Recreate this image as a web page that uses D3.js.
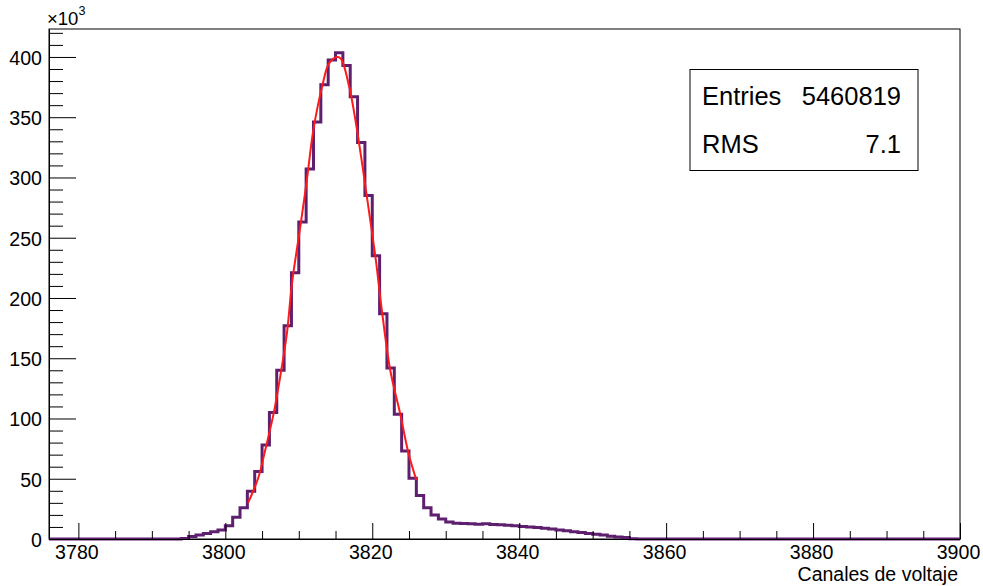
<!DOCTYPE html>
<html>
<head>
<meta charset="utf-8">
<script src="https://cdn.jsdelivr.net/npm/d3@7"></script>
<style>
  html, body { margin: 0; padding: 0; background: #fff; }
  svg { display: block; font-family: "Liberation Sans", Arial, Helvetica, sans-serif; }
</style>
</head>
<body>
<svg id="chart" width="983" height="586"></svg>
<script>
// ---------- data ----------
const binStart = 3776;            // low edge of first bin (bin width = 1)
const binWidth = 1;
// counts in thousands, bins 3776 ... 3899
const counts = [
  0,0,0,0,0,0,0,0,0,0,0,0,0,0,0,0,0,0,          // 3776-3793
  0.5, 2, 3.3, 4.5, 6, 7.5,                      // 3794-3799
  11, 18, 26, 39.6, 56, 78, 105, 140, 177,       // 3800-3808
  221, 263, 307, 346, 377, 397.5, 403.5, 393, 367, // 3809-3817
  329, 285, 235, 187, 142, 103.5, 73, 50.5, 36,  // 3818-3826
  26, 20, 16.5, 14.2, 13, 12.8, 12.6, 12.2, 12.6, 12, 11.8, 11.4, 11, // 3827-3839
  10.4, 10, 9.6, 9, 8.3, 7.5, 6.8, 6, 5.3, 4.6,  // 3840-3849
  4, 3.4, 2.3, 1.7, 1.2, 0.3,                    // 3850-3855
  0,0,0,0,0,0,0,0,0,0,0,0,0,0,0,0,0,0,0,0,0,0,0,0,0,0,0,0,0,0,0,0,0,0,0,0,0,0,0,0,0,0,0,0 // 3856-3899
];
// fitted curve (x, thousands)
const fitX = [3803.1, 3804.5, 3805.44, 3806.57, 3807.48, 3808.39, 3809.07, 3810.2, 3811.1, 3812.0,
              3813.2, 3814.1, 3815.2, 3815.74, 3816.87, 3817.78, 3818.68, 3819.6, 3820.5, 3821.2,
              3822.45, 3823.8, 3824.94, 3826.0];
const fitY = [30, 51, 74, 104, 135, 171, 212, 259, 298, 340,
              376, 394.5, 400, 398.5, 375, 345, 309, 270, 231, 195,
              140, 104, 71, 49];
const xDomain = [3776, 3900];
const yDomain = [0, 423.2];
const xMajorTicks = [3780, 3800, 3820, 3840, 3860, 3880, 3900];
const yMajorTicks = [0, 50, 100, 150, 200, 250, 300, 350, 400];
const statsLabels = ["Entries", "RMS"];
const statsValues = ["5460819", "7.1"];
const xTitle = "Canales de voltaje";

// ---------- layout ----------
const L = 49, R = 960, T = 29, B = 539;
const svg = d3.select("#chart");
svg.append("rect").attr("width", 983).attr("height", 586).attr("fill", "#fff");

const x = d3.scaleLinear().domain(xDomain).range([L, R]);
const y = d3.scaleLinear().domain(yDomain).range([B, T]);

// frame
svg.append("rect").attr("x", L).attr("y", T).attr("width", R - L).attr("height", B - T)
  .attr("fill", "none").attr("stroke", "#000").attr("stroke-width", 1);

// histogram step outline
const pts = counts.map((c, i) => [binStart + i * binWidth, c]);
pts.push([binStart + counts.length * binWidth, counts[counts.length - 1]]);
const stepLine = d3.line().x(d => x(d[0])).y(d => y(d[1])).curve(d3.curveStepAfter);
svg.append("path").attr("d", stepLine(pts))
  .attr("fill", "none").attr("stroke", "#5e1f6e").attr("stroke-width", 3)
  .attr("stroke-linejoin", "miter");

// fit curve
const fitLine = d3.line().x((d, i) => x(fitX[i])).y(d => y(d)).curve(d3.curveCatmullRom);
svg.append("path").attr("d", fitLine(fitY))
  .attr("fill", "none").attr("stroke", "#ff1a1a").attr("stroke-width", 2);

// axes
const fontSize = 19.6;
const xMinor = d3.range(3780, 3901, 5).filter(v => !xMajorTicks.includes(v));
svg.append("g").attr("transform", `translate(0,${B})`)
  .call(d3.axisBottom(x).tickValues(xMinor).tickSize(-8).tickSizeOuter(0).tickFormat(""))
  .call(g => g.select(".domain").remove());
const gx = svg.append("g").attr("transform", `translate(0,${B})`)
  .call(d3.axisBottom(x).tickValues(xMajorTicks).tickSize(-16).tickSizeOuter(0).tickFormat(d3.format("d")));
gx.select(".domain").attr("stroke", "#000");
gx.selectAll("text").attr("y", 19.6).attr("dy", 0).attr("dx", -2)
  .attr("font-size", fontSize).attr("font-family", "Liberation Sans, Arial, sans-serif").attr("fill", "#000");

const yMinor = d3.range(0, 421, 10).filter(v => !yMajorTicks.includes(v));
svg.append("g").attr("transform", `translate(${L},0)`)
  .call(d3.axisLeft(y).tickValues(yMinor).tickSize(-14).tickSizeOuter(0).tickFormat(""))
  .call(g => g.select(".domain").remove());
const gy = svg.append("g").attr("transform", `translate(${L},0)`)
  .call(d3.axisLeft(y).tickValues(yMajorTicks).tickSize(-27).tickSizeOuter(0).tickFormat(d3.format("d")));
gy.select(".domain").attr("stroke", "#000");
gy.selectAll("text").attr("x", -7).attr("dy", 7.3)
  .attr("font-size", fontSize).attr("font-family", "Liberation Sans, Arial, sans-serif").attr("fill", "#000");
svg.selectAll(".tick line").attr("stroke", "#000");

// exponent label
const ex = svg.append("text").attr("x", 47).attr("y", 25).attr("font-size", 18.5).attr("fill", "#000");
ex.append("tspan").text("\u00d710");
ex.append("tspan").attr("dy", -10).attr("font-size", 12.6).text("3");

// x title
svg.append("text").attr("x", 958).attr("y", 580.5).attr("text-anchor", "end")
  .attr("font-size", 19.5).attr("fill", "#000").text(xTitle);

// stats box
svg.append("rect").attr("x", 690).attr("y", 69.5).attr("width", 228).attr("height", 101)
  .attr("fill", "#fff").attr("stroke", "#000").attr("stroke-width", 1);
const rowY = [105, 153];
statsLabels.forEach((lab, i) => {
  svg.append("text").attr("x", 702).attr("y", rowY[i]).attr("font-size", 25.5).attr("fill", "#000").text(lab);
  svg.append("text").attr("x", 901).attr("y", rowY[i]).attr("text-anchor", "end")
    .attr("font-size", 25.5).attr("fill", "#000").text(statsValues[i]);
});
</script>
</body>
</html>
